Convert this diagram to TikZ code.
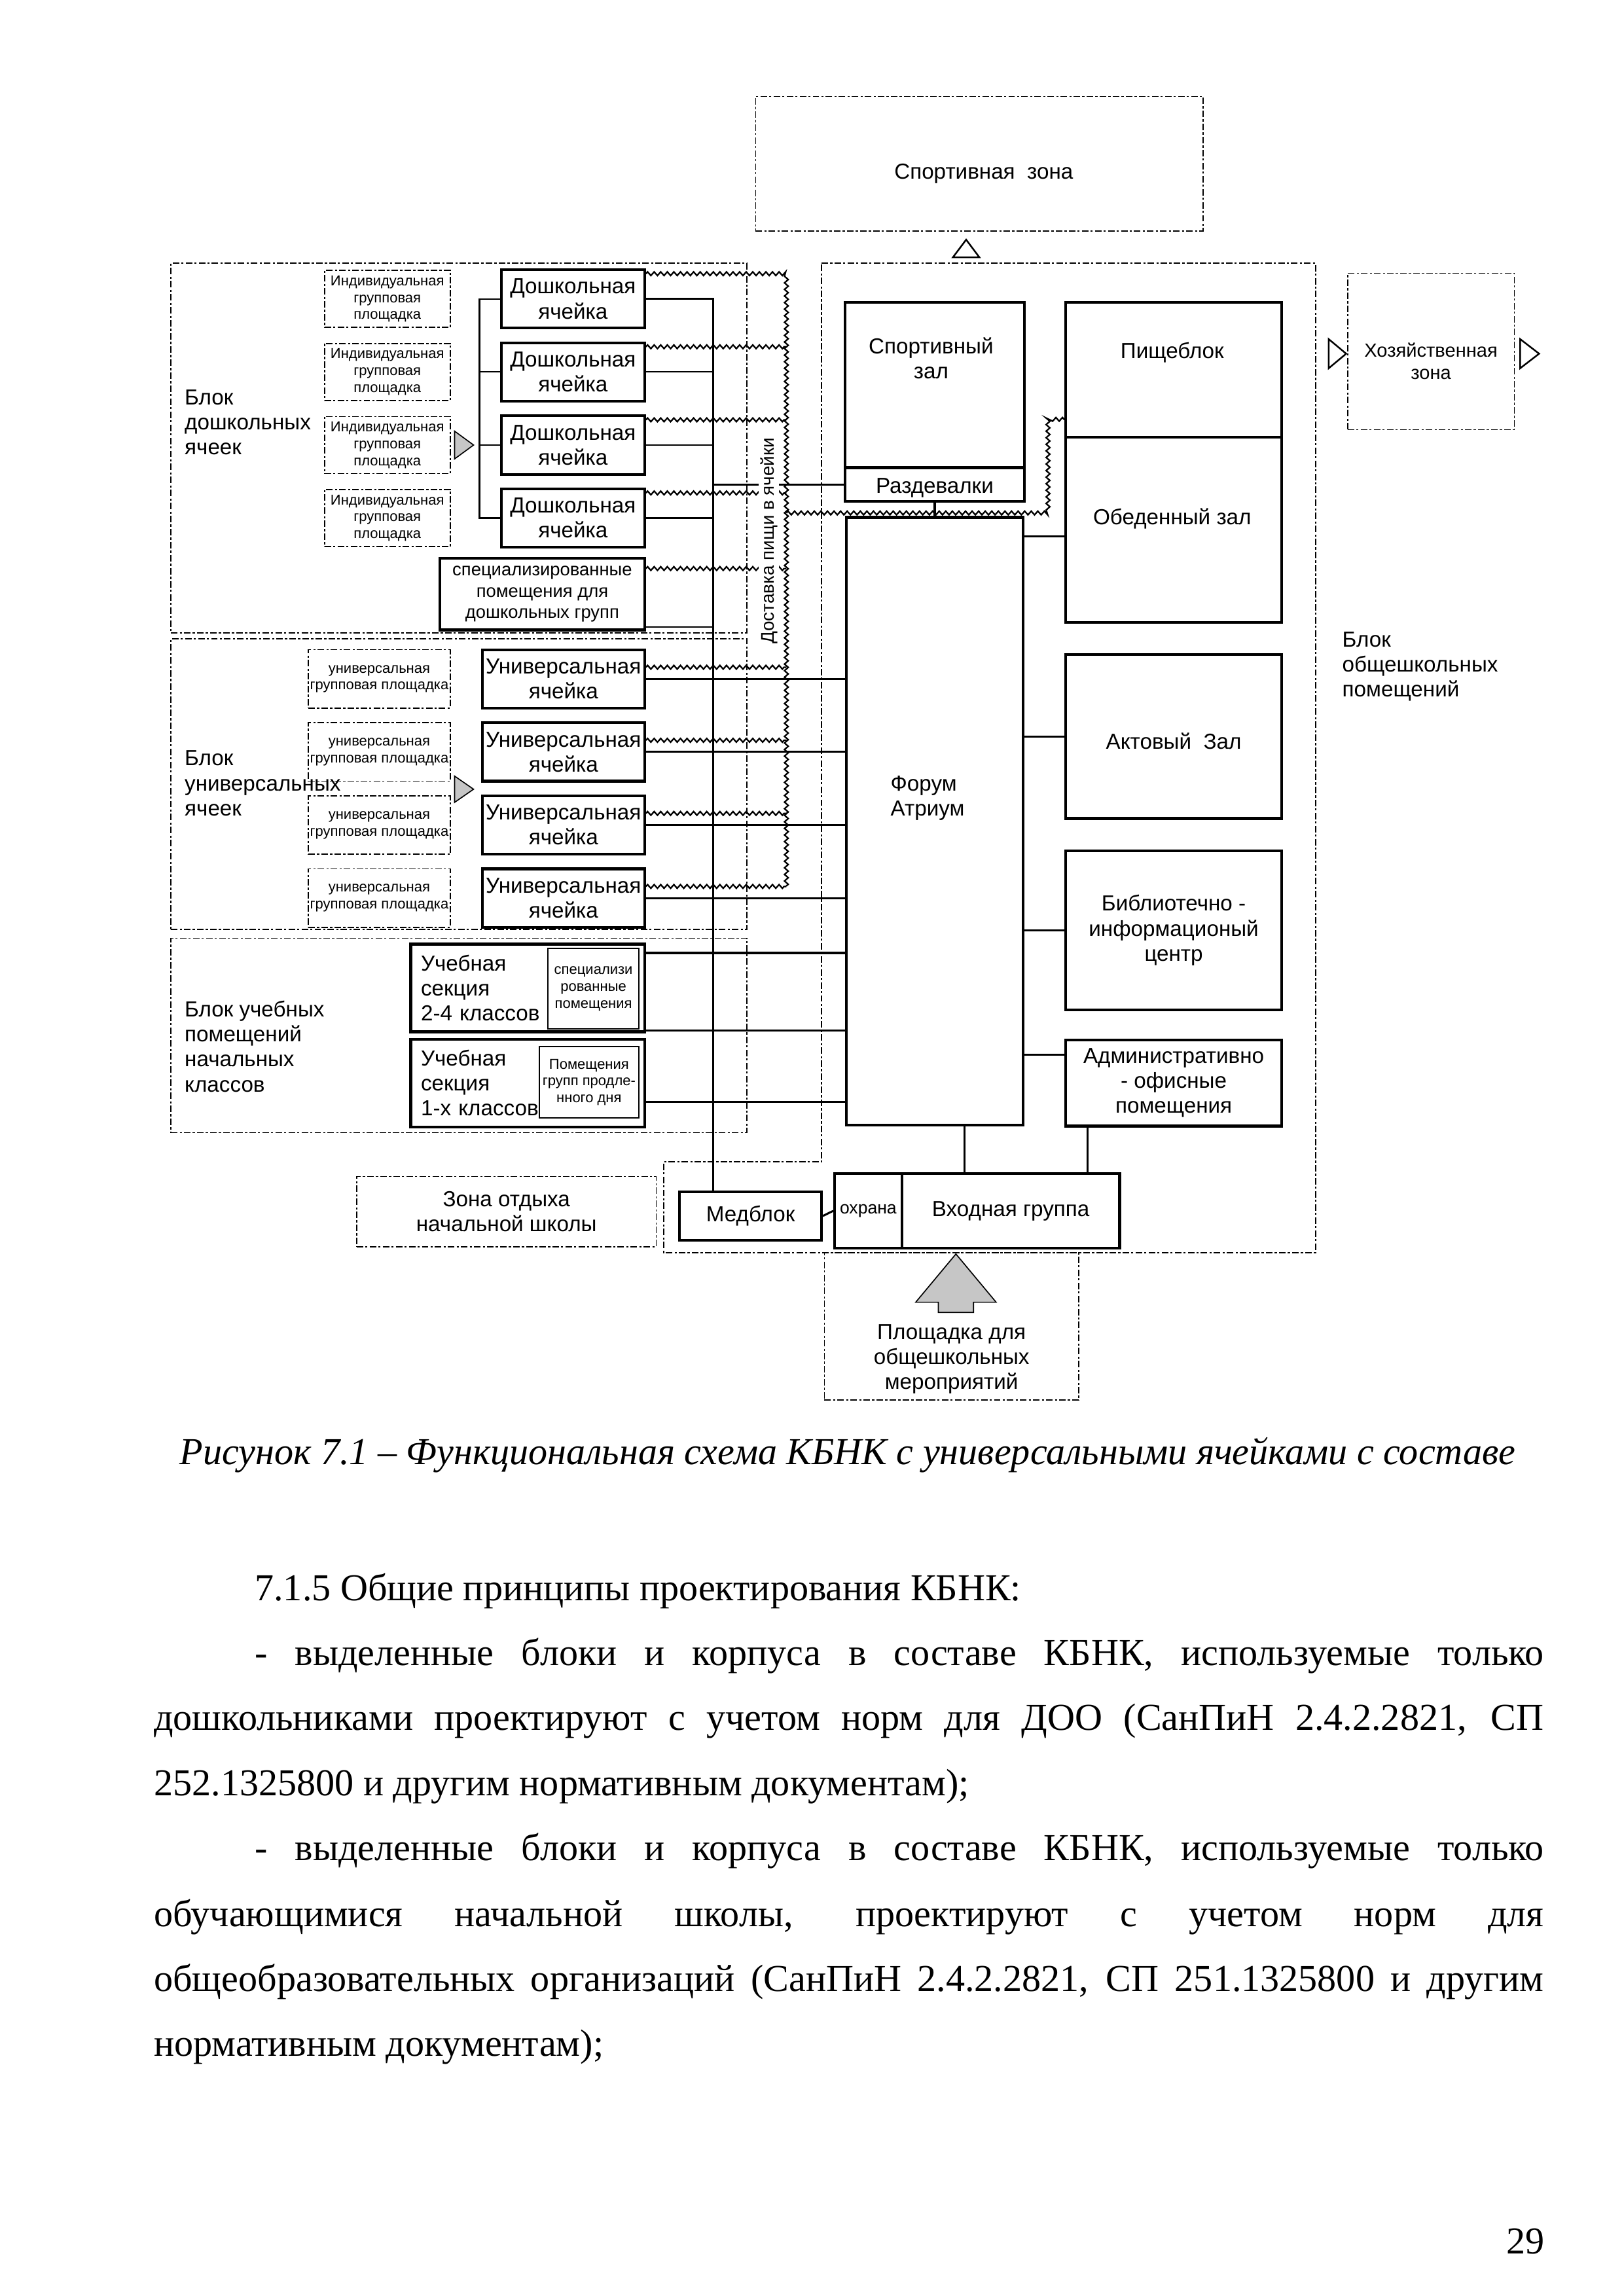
\documentclass[tikz,border=0pt]{standalone}
\usepackage{fontspec}
\setmainfont{Liberation Serif}
\newfontfamily\arial{Liberation Sans}
\usetikzlibrary{positioning,calc,decorations.pathmorphing}

\newcommand\diag[2]{\arial\fontsize{#1}{#2}\selectfont}

\begin{document}
\begin{tikzpicture}[x=0.189mm,y=0.189mm,
    sz/.style 2 args={minimum width=#1*0.189mm,minimum height=#2*0.189mm},
    dashline/.style={line width=0.4pt,dash pattern=on 2.4pt off 0.8pt on 0.8pt off 0.8pt},
    room/.style={draw,line width=1pt,inner sep=0.5pt,align=center,font=\diag{8}{9.2}},
    zone/.style={draw,dashline,inner sep=0.5pt,align=center,font=\diag{8}{9.2}},
    patch/.style={zone,font=\diag{5.3}{6.2}},
    inset/.style={draw,line width=0.5pt,inner sep=0pt,align=center,font=\diag{5.3}{6.2}},
    note/.style={inner sep=0pt,align=left,font=\diag{8}{9.2}},
    link/.style={line width=0.75pt},
    thinlink/.style={line width=0.55pt},
    feed/.style={line width=0.55pt,decorate,decoration={zigzag,amplitude=0.24mm,segment length=0.85mm}},
    greytri/.style={fill=gray!45,draw,line width=0.4pt},
    body/.style={anchor=base west,inner sep=0pt,font=\fontsize{14}{16}\selectfont}]

% page
\path[use as bounding box,fill=white] (0,0) rectangle (1111,-1571);

% sports zone
\node[zone,sz={306}{92}] (sportzone) at (670,-112) {};
\node[note] (sportzonetxt) at (673,-119) {Спортивная\ \ зона};
\draw[line width=0.6pt] (652,-176) -- (670,-176) -- (661,-164) -- cycle;

% blocks
\node[zone,sz={394}{253}] (preblock) at (314,-306.5) {};
\node[zone,sz={394}{199}] (uniblock) at (314,-536.5) {};
\node[zone,sz={394}{133}] (primblock) at (314,-708.5) {};
\draw[dashline] (562,-180) -- (900,-180) -- (900,-857) -- (454,-857) -- (454,-795) -- (562,-795) -- cycle;

\node[note,anchor=west] (prelabel) at (126,-289) {Блок\\дошкольных\\ячеек};
\node[note,anchor=west] (unilabel) at (126,-536) {Блок\\универсальных\\ячеек};
\node[note,anchor=west] (primlabel) at (126,-716) {Блок учебных\\помещений\\начальных\\классов};
\node[note,anchor=west] (genlabel) at (918,-456) {Блок\\общешкольных\\помещений};

% preschool cells
\foreach \i in {1,...,4} {
  \node[patch,sz={86}{39}] (ind\i) at (265,{-154.5-50*\i}) {Индивидуальная\\групповая\\площадка};
  \node[room,sz={98}{40}] (pre\i) at (392,{-154.5-50*\i}) {Дошкольная\\ячейка};
}
\node[room,sz={140}{49},font=\diag{6.6}{7.8}] (prespec) at (371,-406.5) {специализированные\\помещения для\\дошкольных групп};
\filldraw[greytri] (311,-295) -- (324,-304.5) -- (311,-314) -- cycle;

% universal cells
\foreach \i in {1,...,4} {
  \node[patch,sz={97}{40}] (ua\i) at (259.5,{-414.5-50*\i}) {универсальная\\групповая площадка};
  \node[room,sz={111}{40}] (uc\i) at (385.5,{-414.5-50*\i}) {Универсальная\\ячейка};
}
\filldraw[greytri] (311,-531) -- (324,-540) -- (311,-549) -- cycle;

% primary classes
\node[room,sz={160}{60},align=left,text width=27.6mm,inner xsep=1.2mm] (sec24) at (361,-676) {Учебная\\секция\\2-4 классов};
\node[inset,sz={62}{55}] (spec24) at (406,-676.5) {специализи\\рованные\\помещения};
\node[room,sz={160}{60},align=left,text width=27.6mm,inner xsep=1.2mm] (sec1) at (361,-741) {Учебная\\секция\\1-х классов};
\node[inset,sz={68}{49}] (ext1) at (403,-740.5) {Помещения\\групп продле-\\нного дня};

% bottom row
\node[zone,sz={205}{48}] (rest) at (346.5,-829) {Зона отдыха\\начальной школы};
\node[room,sz={97}{33}] (med) at (513.5,-832) {Медблок};
\node[room,sz={46}{51},font=\diag{6.4}{7.4}] (ohr) at (594,-828.5) {охрана};
\node[room,sz={149}{51}] (vhod) at (691.5,-828.5) {Входная группа};
\node[zone,sz={174}{101}] (plosh) at (651,-907.5) {};
\node[note,align=center] (ploshtxt) at (651,-930) {Площадка для\\общешкольных\\мероприятий};
\filldraw[greytri] (654,-858) -- (681.5,-891) -- (666,-891) -- (666,-898) -- (642,-898) -- (642,-891) -- (626.5,-891) -- cycle;

% common rooms
\node[room,sz={123}{113}] (sportzal) at (639.5,-263.5) {};
\node[note,align=center] (sportzaltxt) at (637,-245) {Спортивный\\зал};
\node[room,sz={123}{23}] (razd) at (639.5,-331.5) {};
\node[note] (razdtxt) at (639.5,-334) {Раздевалки};
\node[room,sz={148}{92}] (pishch) at (803,-253) {};
\node[note] (pishchtxt) at (802,-241) {Пищеблок};
\node[room,sz={148}{127}] (obed) at (803,-362.5) {};
\node[note] (obedtxt) at (802,-355) {Обеденный зал};
\node[room,sz={121}{416}] (forum) at (639.5,-562) {};
\node[note,anchor=west] (forumtxt) at (609,-546) {Форум\\Атриум};
\node[room,sz={148}{112}] (akt) at (803,-504) {};
\node[note] (akttxt) at (803,-507) {Актовый\ \ Зал};
\node[room,sz={148}{109}] (bib) at (803,-636.5) {Библиотечно -\\информационый\\центр};
\node[room,sz={148}{59}] (adm) at (803,-741) {Административно\\- офисные\\помещения};

% service zone
\node[zone,sz={114}{107}] (hoz) at (979,-240.5) {};
\node[note,align=center,font=\diag{7}{8.2}] (hoztxt) at (979,-247) {Хозяйственная\\зона};
\draw[line width=0.6pt] (909,-232) -- (921,-242) -- (909,-252) -- cycle;
\draw[line width=0.6pt] (1040,-232) -- (1053,-242) -- (1040,-252) -- cycle;

% plain links
\coordinate (trunk) at (488,0);
\draw[thinlink] (pre1.west) -- ++(-14,0) coordinate (brk) |- (pre4.west);
\foreach \i in {2,3} \draw[thinlink] (pre\i.west) -- (pre\i.west -| brk);
\draw[link] (pre1.east) -| (trunk |- med.north);
\foreach \i in {2,3,4} \draw[thinlink] (pre\i.east) -- (pre\i.east -| trunk);
\draw[thinlink] ([yshift=0.57mm]prespec.south east) -- ([yshift=0.57mm]prespec.south east -| trunk);
\draw[link] (trunk |- razd.west) -- (razd.west);
\foreach \i in {1,...,4} \draw[link] (uc\i.east) -- (uc\i.east -| forum.west);
\draw[link] ([yshift=-1.32mm]sec24.north east) -- ([yshift=-1.32mm]sec24.north east -| forum.west);
\draw[link] ([yshift=0.38mm]sec24.south east) -- ([yshift=0.38mm]sec24.south east -| forum.west);
\draw[link] ([yshift=-2.46mm]sec1.east) -- ([yshift=-2.46mm]sec1.east -| forum.west);
\draw[link] (razd.south) -- (razd.south |- forum.north);
\draw[link] ([yshift=-2.65mm]forum.north east) -- ([yshift=-2.65mm]forum.north east -| obed.west);
\draw[link] (akt.west) -- (akt.west -| forum.east);
\draw[link] (bib.west) -- (bib.west -| forum.east);
\draw[link] ([yshift=-2.08mm]adm.north west) -- ([yshift=-2.08mm]adm.north west -| forum.east);
\draw[link] ([xshift=3.87mm]forum.south) -- ([xshift=3.87mm]forum.south |- vhod.north);
\draw[link] ([xshift=-11.15mm]adm.south) -- ([xshift=-11.15mm]adm.south |- vhod.north);
\draw[link] (med.east) -- (ohr.west);

% food delivery
\coordinate (feedx) at (538,0);
\coordinate (feedmid) at (538,-351);
\draw[feed] ([yshift=-0.7mm]pre1.north east) -| ([yshift=-2.45mm]uc4.north east -| feedx);
\foreach \i in {2,3,4} \draw[feed] ([yshift=-0.7mm]pre\i.north east) -- ([yshift=-0.7mm]pre\i.north east -| feedx);
\draw[feed] ([yshift=-1.5mm]prespec.north east) -- ([yshift=-1.5mm]prespec.north east -| feedx);
\foreach \i in {1,...,4} \draw[feed] ([yshift=-2.45mm]uc\i.north east) -- ([yshift=-2.45mm]uc\i.north east -| feedx);
\draw[feed] (feedmid) -- ++(179,0) |- ([yshift=2.46mm]pishch.south west);
\node[fill=white,inner sep=0.6pt,rotate=90,font=\diag{6.7}{7.8}] (feedlabel) at (526,-370) {Доставка пищи в ячейки};

% caption and text
\node[anchor=base,inner sep=0pt,font=\fontsize{14}{16}\selectfont\itshape] (caption) at (580,-1002) {Рисунок 7.1 – Функциональная схема КБНК с универсальными ячейками с составе};
\node[body] (txt1) at (174,-1095) {7.1.5 Общие принципы проектирования КБНК:};
\node[body] (txt2) at (174,-1139.5) {\makebox[166.7mm][s]{- выделенные блоки и корпуса в составе КБНК, используемые только}};
\node[body] (txt3) at (105,-1184) {\makebox[179.7mm][s]{дошкольниками проектируют с учетом норм для ДОО (СанПиН 2.4.2.2821, СП}};
\node[body] (txt4) at (105,-1228.5) {252.1325800 и другим нормативным документам);};
\node[body] (txt5) at (174,-1273) {\makebox[166.7mm][s]{- выделенные блоки и корпуса в составе КБНК, используемые только}};
\node[body] (txt6) at (105,-1318) {\makebox[179.7mm][s]{обучающимися начальной школы, проектируют с учетом норм для}};
\node[body] (txt7) at (105,-1362.5) {\makebox[179.7mm][s]{общеобразовательных организаций (СанПиН 2.4.2.2821, СП 251.1325800 и другим}};
\node[body] (txt8) at (105,-1407) {нормативным документам);};
\node[anchor=base east,inner sep=0pt,font=\fontsize{14}{16}\selectfont] (pagenum) at (1057,-1542) {29};
\end{tikzpicture}
\end{document}
